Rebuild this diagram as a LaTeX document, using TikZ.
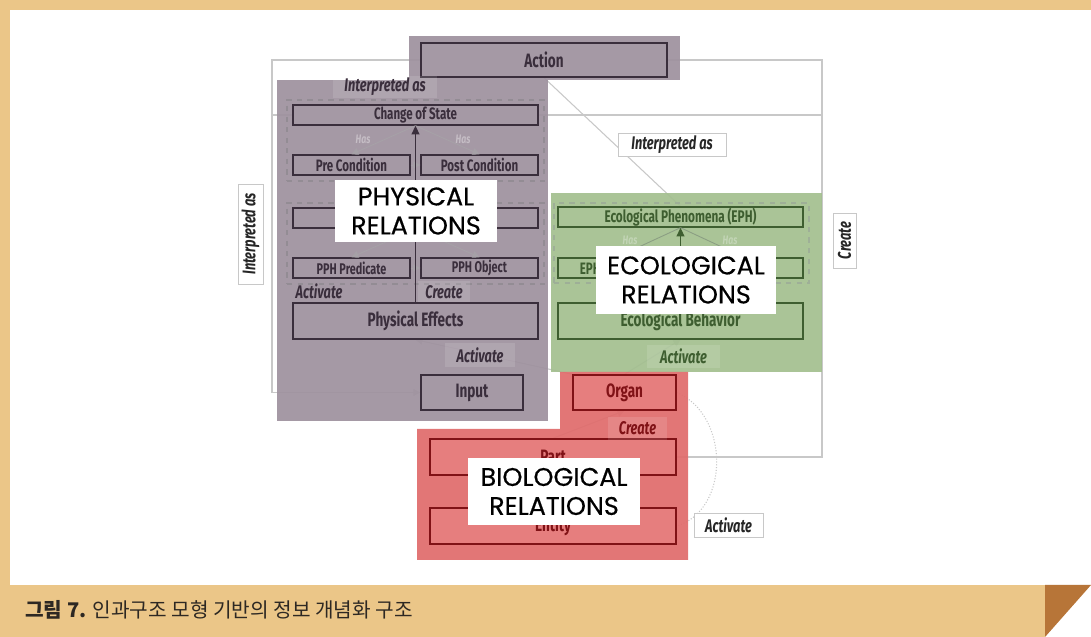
\documentclass[tikz,border=0pt]{standalone}
\usepackage{fontspec}
\newfontfamily\condfont[FakeStretch=0.7]{Fira Sans}
\newfontfamily\labelfont[FakeBold=0.5]{Poppins}
\newfontfamily\cjk{Noto Sans CJK KR}
\usepackage{tikz}
\usetikzlibrary{arrows.meta, backgrounds}
\definecolor{frametan}{RGB}{235,198,136}
\definecolor{foldbrown}{RGB}{183,117,56}
\definecolor{physfill}{RGB}{158,145,158}
\definecolor{physline}{RGB}{58,46,60}
\definecolor{ecofill}{RGB}{163,191,143}
\definecolor{ecoline}{RGB}{62,94,48}
\definecolor{biofill}{RGB}{224,107,107}
\definecolor{biobox}{RGB}{230,126,126}
\definecolor{bioline}{RGB}{128,18,22}
\definecolor{linkgray}{RGB}{200,200,200}
\definecolor{captiontext}{RGB}{45,40,35}
\tikzset{
    region/.style={rectangle, inner sep=0pt, fill opacity=0.92},
    box/.style={rectangle, inner sep=0pt, line width=0.8pt, font=\condfont\bfseries\fontsize{9.4}{11}\selectfont},
    bigtext/.style={font=\condfont\bfseries\fontsize{11}{13}\selectfont},
    physbox/.style={box, draw=physline, text=physline},
    ecobox/.style={box, draw=ecoline, text=ecoline},
    biobox/.style={box, draw=bioline, text=bioline, fill=biobox},
    group/.style={rectangle, inner sep=0pt, dashed, line width=0.6pt},
    tag/.style={inner sep=1pt, font=\condfont\bfseries\itshape\fontsize{10.4}{12}\selectfont},
    faintbox/.style={fill=white, fill opacity=0.12, text opacity=1},
    hastag/.style={inner sep=0pt, font=\condfont\bfseries\itshape\fontsize{7}{8}\selectfont},
    flowtag/.style={tag, draw=linkgray, fill=white, line width=0.5pt, text=black!85},
    relation/.style={rectangle, fill=white, inner sep=0pt, align=center, font=\labelfont\fontsize{14.5}{16.5}\selectfont},
    link/.style={draw=linkgray, line width=0.6pt},
    hasarrow/.style={-{Triangle[length=4pt, width=4pt]}, line width=0.5pt},
    uparrow/.style={-{Triangle[length=5pt, width=4.5pt]}, line width=0.8pt}
}

\begin{document}
\begin{tikzpicture}
    \useasboundingbox (0,0) rectangle (21.82,-12.74);

    % Regions
    \node[region, fill=physfill, minimum width=5.42cm, minimum height=0.88cm] (actreg) at (10.89,-1.16) {};
    \node[region, fill=physfill, minimum width=5.42cm, minimum height=6.82cm] (physreg) at (8.25,-5.01) {};
    \node[region, fill=ecofill, minimum width=5.42cm, minimum height=3.58cm] (ecoreg) at (13.73,-5.65) {};
    \fill[biofill, fill opacity=0.92] (11.2,-7.44) -- (13.76,-7.44) -- (13.76,-11.2) -- (8.34,-11.2) -- (8.34,-8.58) -- (11.2,-8.58) -- cycle;

    % Physical relations
    \node[physbox, bigtext, minimum width=4.92cm, minimum height=0.68cm] (action) at (10.88,-1.2) {Action};
    \node[group, draw=physline!55, minimum width=5.14cm, minimum height=1.62cm] (stategroup) at (8.31,-2.81) {};
    \node[physbox, minimum width=4.9cm, minimum height=0.4cm] (cos) at (8.31,-2.3) {Change of State};
    \node[physbox, minimum width=2.34cm, minimum height=0.4cm] (precond) at (7.03,-3.3) {Pre Condition};
    \node[physbox, minimum width=2.34cm, minimum height=0.4cm] (postcond) at (9.59,-3.3) {Post Condition};
    \node[group, draw=physline!55, minimum width=5.14cm, minimum height=1.62cm] (pphgroup) at (8.31,-4.87) {};
    \node[physbox, minimum width=4.9cm, minimum height=0.4cm] (pph) at (8.31,-4.36) {};
    \node[physbox, font=\condfont\bfseries\fontsize{8.8}{10}\selectfont, minimum width=2.34cm, minimum height=0.4cm] (pphpred) at (7.03,-5.36) {PPH Predicate};
    \node[physbox, font=\condfont\bfseries\fontsize{8.8}{10}\selectfont, minimum width=2.34cm, minimum height=0.4cm] (pphobj) at (9.59,-5.36) {PPH Object};
    \node[physbox, bigtext, minimum width=4.9cm, minimum height=0.72cm] (effects) at (8.31,-6.42) {Physical Effects};
    \node[physbox, bigtext, minimum width=2.04cm, minimum height=0.7cm] (input) at (9.44,-7.85) {Input};

    % Ecological relations
    \node[group, draw=ecoline!50, minimum width=5.1cm, minimum height=1.6cm] (ephgroup) at (13.63,-4.86) {};
    \node[ecobox, font=\condfont\bfseries\fontsize{9.6}{11}\selectfont, minimum width=4.9cm, minimum height=0.4cm] (eph) at (13.61,-4.34) {Ecological Phenomena (EPH)};
    \node[ecobox, minimum width=2.34cm, minimum height=0.4cm] (ephpred) at (12.33,-5.36) {EPH Predicate};
    \node[ecobox, minimum width=2.36cm, minimum height=0.4cm] (ephobj) at (14.88,-5.36) {};
    \node[ecobox, bigtext, minimum width=4.9cm, minimum height=0.72cm] (ecobehav) at (13.61,-6.42) {Ecological Behavior};

    % Biological relations
    \node[biobox, bigtext, minimum width=2.06cm, minimum height=0.7cm] (organ) at (12.49,-7.85) {Organ};
    \node[biobox, bigtext, minimum width=4.92cm, minimum height=0.72cm] (part) at (11.06,-9.14) {Part};
    \node[biobox, bigtext, minimum width=4.92cm, minimum height=0.72cm] (entity) at (11.06,-10.52) {Entity};

    % Inner arrows
    \draw[hasarrow, physline!45] (cos.south) -- (precond.north);
    \draw[hasarrow, physline!45] (cos.south) -- (postcond.north);
    \draw[hasarrow, physline!45] (precond) -- (postcond);
    \draw[hasarrow, physline!45] (pph.south) -- (pphpred.north);
    \draw[hasarrow, physline!45] (pph.south) -- (pphobj.north);
    \draw[hasarrow, physline!45] (pphpred) -- (pphobj);
    \draw[uparrow, physline] (effects.north) -- (cos.south);
    \draw[hasarrow, ecoline!60] (eph.south) -- (ephpred.north);
    \draw[hasarrow, ecoline!60] (eph.south) -- (ephobj.north);
    \draw[uparrow, ecoline] (ecobehav.north) -- (eph.south);

    % Tags
    \node[hastag, text=white!40!physfill] (hasa) at (7.26,-2.78) {Has};
    \node[hastag, text=white!40!physfill] (hasb) at (9.26,-2.78) {Has};
    \node[hastag, text=white!35!ecofill] (hasc) at (12.6,-4.8) {Has};
    \node[hastag, text=white!35!ecofill] (hasd) at (14.6,-4.8) {Has};
    \node[tag, faintbox, text=physline, minimum width=2.08cm, minimum height=0.42cm] (interp) at (7.7,-1.74) {Interpreted as};
    \node[tag, text=physline] (actleft) at (6.38,-5.82) {Activate};
    \node[tag, faintbox, text=physline, minimum width=1.04cm, minimum height=0.42cm] (createphys) at (8.88,-5.84) {Create};
    \node[tag, faintbox, text=physline, minimum width=1.4cm, minimum height=0.48cm] (actinput) at (9.6,-7.11) {Activate};
    \node[tag, faintbox, text=ecoline, minimum width=1.46cm, minimum height=0.46cm] (acteco) at (13.67,-7.13) {Activate};
    \node[tag, faintbox, text=bioline, minimum width=1.18cm, minimum height=0.46cm] (createbio) at (12.75,-8.57) {Create};

    \node[flowtag, minimum width=2.16cm, minimum height=0.46cm] (interpright) at (13.44,-2.89) {Interpreted as};
    \node[flowtag, rotate=90, minimum width=2.0cm, minimum height=0.5cm] (interpleft) at (5.01,-4.68) {Interpreted as};
    \node[flowtag, rotate=90, minimum width=1.1cm, minimum height=0.46cm] (createright) at (16.89,-4.81) {Create};
    \node[flowtag, minimum width=1.38cm, minimum height=0.48cm] (actright) at (14.57,-10.5) {Activate};

    % Relation labels
    \node[relation, minimum width=3.24cm, minimum height=1.24cm] (physlabel) at (8.32,-4.22) {PHYSICAL\\RELATIONS};
    \node[relation, minimum width=3.6cm, minimum height=1.36cm] (ecolabel) at (13.72,-5.6) {ECOLOGICAL\\RELATIONS};
    \node[relation, minimum width=3.44cm, minimum height=1.34cm] (biolabel) at (11.08,-9.83) {BIOLOGICAL\\RELATIONS};

    % Caption
    \node[anchor=west, inner sep=0pt, text=captiontext, font=\cjk\fontsize{11.5}{13}\selectfont] (caption) at (0.5,-12.2) {\textbf{그림 7.} 인과구조 모형 기반의 정보 개념화 구조};

    \begin{scope}[on background layer]
        % Frame
        \fill[white] (0,0) rectangle (21.82,-12.74);
        \fill[frametan] (0,0) rectangle (21.82,-0.2);
        \fill[frametan] (0,0) rectangle (0.2,-11.7);
        \fill[frametan] (0,-11.7) rectangle (20.9,-12.74);
        \fill[foldbrown] (20.9,-11.7) -- (21.82,-11.7) -- (20.9,-12.74) -- cycle;

        % Links
        \draw[link, -{Triangle[length=4pt, width=4pt]}] (action.west) -- (5.44,-1.2) |- (input.west);
        \draw[link] (cos.west) -- (5.44,-2.3);
        \draw[link] (cos.east) -- (16.44,-2.3);
        \draw[link] (action.east) -- (16.44,-1.2) |- (part.east);
        \draw[link] (action.south) -- (eph.north);
        \draw[link, densely dotted] (organ.east) .. controls (14.6,-8.3) and (14.6,-10.2) .. (entity.east);
        \draw[link, -{Triangle[length=4pt, width=4pt]}] (organ.north west) -- (effects.south);
        \draw[link, -{Triangle[length=4pt, width=4pt]}] (organ.north) -- (ecobehav.south);
        \draw[link, -{Triangle[length=4pt, width=4pt]}] (part.north) -- (organ.south);
    \end{scope}
\end{tikzpicture}
\end{document}
